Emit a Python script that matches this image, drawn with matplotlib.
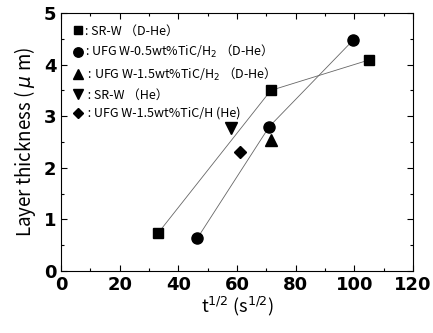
import matplotlib.pyplot as plt
from matplotlib.ticker import MultipleLocator

plt.rcParams['font.family'] = ['Noto Sans CJK JP', 'DejaVu Sans']
plt.rcParams['mathtext.fontset'] = 'dejavusans'

# data
srw_dhe_x = [33, 71.5, 105]
srw_dhe_y = [0.73, 3.5, 4.09]
ufg05_x = [46.5, 71, 99.5]
ufg05_y = [0.64, 2.8, 4.47]
ufg15_x = [71.5]
ufg15_y = [2.54]
srw_he_x = [58]
srw_he_y = [2.78]
ufg15_he_x = [61]
ufg15_he_y = [2.3]

labels = [': SR-W （D-He）',
          ': UFG W-0.5wt%TiC/H$_2$ （D-He）',
          ' : UFG W-1.5wt%TiC/H$_2$ （D-He）',
          ' : SR-W （He）',
          ' : UFG W-1.5wt%TiC/H (He)']

fig = plt.figure(figsize=(4.33, 3.33), dpi=100)
ax = fig.add_axes([0.141, 0.186, 0.813, 0.775])

ax.plot(srw_dhe_x, srw_dhe_y, color='#666666', lw=0.6, marker='s', ms=7,
        mfc='black', mec='black', label=labels[0])
ax.plot(ufg05_x, ufg05_y, color='#666666', lw=0.6, marker='o', ms=8,
        mfc='black', mec='black', label=labels[1])
ax.plot(ufg15_x, ufg15_y, ls='none', marker='^', ms=8, color='black', label=labels[2])
ax.plot(srw_he_x, srw_he_y, ls='none', marker='v', ms=8, color='black', label=labels[3])
ax.plot(ufg15_he_x, ufg15_he_y, ls='none', marker='D', ms=6.5, color='black', label=labels[4])

leg = ax.legend(loc='upper left', frameon=False, fontsize=9, handlelength=0.8,
                handletextpad=0.15, labelspacing=0.45, borderaxespad=0.3,
                markerscale=0.85, bbox_to_anchor=(0.01, 0.99))
for h in leg.legend_handles:
    h.set_linestyle('none')

ax.set_xlim(0, 120)
ax.set_ylim(0, 5)
ax.xaxis.set_major_locator(MultipleLocator(20))
ax.xaxis.set_minor_locator(MultipleLocator(10))
ax.yaxis.set_major_locator(MultipleLocator(1))
ax.yaxis.set_minor_locator(MultipleLocator(0.5))
ax.tick_params(which='both', direction='in', top=True, right=True)
ax.tick_params(which='major', length=4, width=0.8)
ax.tick_params(which='minor', length=2.5, width=0.8)
for lab in ax.get_xticklabels() + ax.get_yticklabels():
    lab.set_fontsize(13)
    lab.set_fontweight('bold')
    lab.set_family('DejaVu Sans')

ax.set_ylabel('Layer thickness ( $\\mu$ m)', fontsize=13.5, labelpad=4)
ax.set_xlabel('t$^{1/2}$ (s$^{1/2}$)', fontsize=13, labelpad=1)

fig.savefig('out.png', dpi=100)
